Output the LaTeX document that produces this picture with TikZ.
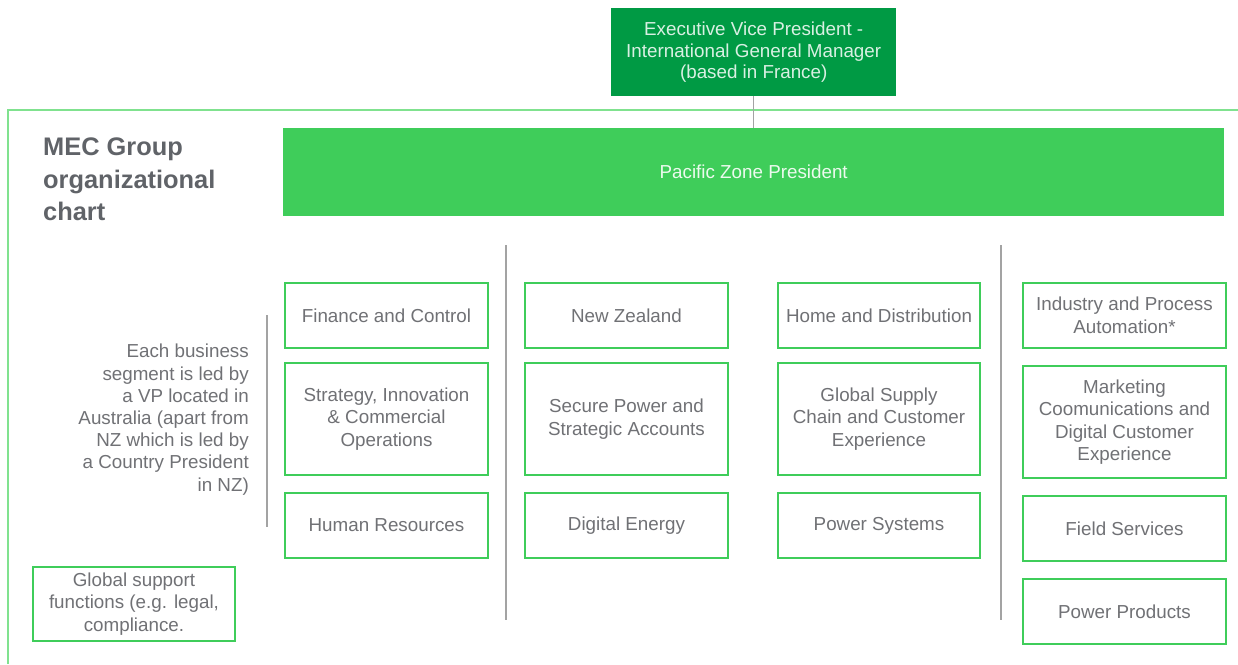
\documentclass[tikz,border=0pt]{standalone}
\usepackage{fontspec}
\setmainfont{Liberation Sans}
\definecolor{dkgreen}{HTML}{009A44}
\definecolor{mgreen}{HTML}{3FCD5A}
\definecolor{lgreen}{HTML}{80E28F}
\definecolor{txtgray}{HTML}{707175}
\definecolor{ttlgray}{HTML}{606368}
\definecolor{lngray}{HTML}{A3A3A3}
\begin{document}
\begin{tikzpicture}[x=1pt,y=-1pt,
  unitbox/.style={draw=mgreen,line width=2pt,fill=white,text=txtgray,align=center,inner sep=0pt,
    font=\fontsize{18.8}{22.5}\selectfont,anchor=north west},
  sepline/.style={draw=lngray,line width=1.2pt}]
\useasboundingbox (0,0) rectangle (1238,664);
% frame
\draw[lgreen,line width=1.5pt] (8,664) -- (8,110) -- (1238,110);
% executive
\node[fill=dkgreen,text=white!85!dkgreen,minimum width=285pt,minimum height=88pt,anchor=north west,inner sep=0pt,align=center,
  font=\fontsize{18.8}{21.5}\selectfont] (evp) at (611,8) {Executive Vice President -\\International General Manager\\(based in France)};
\node[fill=mgreen,text=white!90!mgreen,minimum width=941pt,minimum height=88pt,anchor=north west,inner sep=0pt,
  font=\fontsize{18.8}{20}\selectfont] (pzp) at (283,128) {Pacific Zone President};
\draw[lngray,line width=1.2pt] (evp.south) -- (pzp.north);
% title
\node[anchor=north west,align=left,text=ttlgray,inner sep=0pt,font=\fontsize{25.4}{32.5}\selectfont\bfseries] (title) at (43,138)
  {MEC Group\\organizational\\chart};
% left note
\node[anchor=north east,align=right,text=txtgray,inner sep=0pt,font=\fontsize{18.8}{22.2}\selectfont] (note) at (249,344)
  {Each business\\segment is led by\\a VP located in\\Australia (apart from\\NZ which is led by\\a Country President\\in NZ)};
\coordinate (n1) at (267,315); \coordinate (n2) at (267,527);
\draw[sepline] (n1) -- (n2);
\coordinate (s1a) at (506,245); \coordinate (s1b) at (506,620);
\draw[sepline] (s1a) -- (s1b);
\coordinate (s2a) at (1001,245); \coordinate (s2b) at (1001,620);
\draw[sepline] (s2a) -- (s2b);
% global support
\node[unitbox,minimum width=202pt,minimum height=74pt,font=\fontsize{18.8}{22.5}\selectfont] (gsf) at (32,566) {Global support\\functions (e.g. legal,\\compliance.};
% column 1
\node[unitbox,minimum width=203pt,minimum height=65pt] (fc) at (284,282) {Finance and Control};
\node[unitbox,minimum width=203pt,minimum height=112pt] (sic) at (284,362) {Strategy, Innovation\\\& Commercial\\Operations};
\node[unitbox,minimum width=203pt,minimum height=65pt] (hr) at (284,492) {Human Resources};
% column 2
\node[unitbox,minimum width=203pt,minimum height=65pt] (nz) at (524,282) {New Zealand};
\node[unitbox,minimum width=203pt,minimum height=112pt] (sp) at (524,362) {Secure Power and\\Strategic Accounts};
\node[unitbox,minimum width=203pt,minimum height=65pt] (de) at (524,492) {Digital Energy};
% column 3
\node[unitbox,minimum width=202pt,minimum height=65pt] (hd) at (777,282) {Home and Distribution};
\node[unitbox,minimum width=202pt,minimum height=112pt] (gsc) at (777,362) {Global Supply\\Chain and Customer\\Experience};
\node[unitbox,minimum width=202pt,minimum height=65pt] (ps) at (777,492) {Power Systems};
% column 4
\node[unitbox,minimum width=203pt,minimum height=65pt] (ipa) at (1022,282) {Industry and Process\\Automation*};
\node[unitbox,minimum width=203pt,minimum height=112pt] (mc) at (1022,365) {Marketing\\Coomunications and\\Digital Customer\\Experience};
\node[unitbox,minimum width=203pt,minimum height=65pt] (fs) at (1022,495) {Field Services};
\node[unitbox,minimum width=203pt,minimum height=65pt] (pp) at (1022,578) {Power Products};
\end{tikzpicture}
\end{document}
